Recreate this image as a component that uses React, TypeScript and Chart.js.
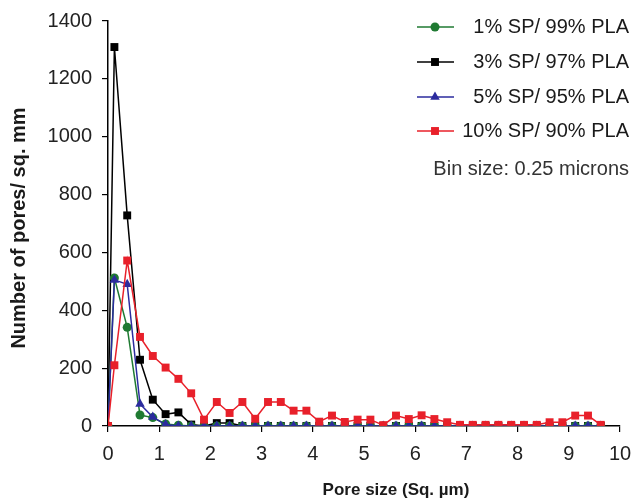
import React, { useEffect, useRef } from "react";
import { Chart, registerables } from "chart.js";

Chart.register(...registerables);

const poreSize = [
  0, 0.125, 0.375, 0.625, 0.875, 1.125, 1.375, 1.625, 1.875, 2.125,
  2.375, 2.625, 2.875, 3.125, 3.375, 3.625, 3.875, 4.125, 4.375, 4.625,
  4.875, 5.125, 5.375, 5.625, 5.875, 6.125, 6.375, 6.625, 6.875, 7.125,
  7.375, 7.625, 7.875, 8.125, 8.375, 8.625, 8.875, 9.125, 9.375, 9.625,
];

const sp1 = [
  0, 512, 341, 38, 29, 7, 3, 0, 0, 0,
  0, 0, 0, 0, 0, 0, 0, 0, 0, 0,
  0, 0, 0, 0, 0, 0, 0, 0, 0, 0,
  0, 0, 0, 0, 0, 0, 0, 0, 0, 0,
];

const sp3 = [
  0, 1310, 728, 229, 91, 41, 47, 5, 0, 10,
  10, 0, 0, 0, 0, 0, 0, 0, 0, 0,
  0, 0, 0, 0, 0, 0, 0, 0, 0, 0,
  0, 0, 0, 0, 0, 0, 0, 0, 0, 0,
];

const sp5 = [
  0, 505, 490, 76, 31, 5, 0, 0, 0, 0,
  0, 0, 0, 0, 0, 0, 0, 0, 0, 0,
  0, 0, 0, 0, 0, 0, 0, 0, 0, 0,
  0, 0, 0, 0, 0, 0, 0, 0, 0, 0,
];

const sp10 = [
  0, 210, 572, 308, 242, 202, 163, 113, 22, 83,
  45, 83, 25, 83, 83, 53, 53, 15, 36, 14,
  22, 22, 3, 36, 24, 37, 24, 13, 4, 4,
  4, 4, 4, 4, 4, 13, 13, 36, 36, 4,
];

const seriesLabels = [
  "1% SP/ 99% PLA",
  "3% SP/ 97% PLA",
  "5% SP/ 95% PLA",
  "10% SP/ 90% PLA",
];
const seriesColors = ["#1f7a32", "#000000", "#2b2b9e", "#e8202a"];
const seriesStyles = ["circle", "rect", "triangle", "rect"];
const seriesRadius = [4.5, 5.6, 5.5, 5.6];
const seriesValues = [sp1, sp3, sp5, sp10];
const seriesOrder = [2, 3, 1, 0];

const xTicks = [0, 1, 2, 3, 4, 5, 6, 7, 8, 9, 10];
const yTicks = [0, 200, 400, 600, 800, 1000, 1200, 1400];
const binNote = "Bin size: 0.25 microns";
const xTitle = "Pore size (Sq. µm)";
const yTitle = "Number of pores/ sq. mm";

const FONT = "'Liberation Sans', Arial, sans-serif";

function drawMarker(ctx: CanvasRenderingContext2D, style: string, x: number, y: number, r: number, color: string) {
  ctx.save();
  ctx.fillStyle = color;
  ctx.beginPath();
  if (style === "circle") {
    ctx.arc(x, y, r, 0, Math.PI * 2);
  } else if (style === "rect") {
    const s = r * Math.SQRT1_2;
    ctx.rect(x - s, y - s, 2 * s, 2 * s);
  } else {
    const h = r;
    ctx.moveTo(x, y - h);
    ctx.lineTo(x + h * Math.sin(Math.PI / 3), y + h * 0.5);
    ctx.lineTo(x - h * Math.sin(Math.PI / 3), y + h * 0.5);
    ctx.closePath();
  }
  ctx.fill();
  ctx.restore();
}

const legendPlugin = {
  id: "customLegend",
  afterDraw(chart: any) {
    const ctx: CanvasRenderingContext2D = chart.ctx;
    const rows = [27, 62, 97, 131];
    ctx.save();
    ctx.font = `20px ${FONT}`;
    ctx.textBaseline = "middle";
    ctx.textAlign = "right";
    seriesLabels.forEach((label, i) => {
      const y = rows[i];
      ctx.strokeStyle = seriesColors[i];
      ctx.lineWidth = 1.5;
      ctx.beginPath();
      ctx.moveTo(417, y);
      ctx.lineTo(454, y);
      ctx.stroke();
      drawMarker(ctx, seriesStyles[i], 435, y, seriesRadius[i], seriesColors[i]);
      ctx.fillStyle = "#1a1a1a";
      ctx.fillText(label, 629, y);
    });
    ctx.fillStyle = "#333333";
    ctx.fillText(binNote, 629, 169);

    // axis titles
    ctx.fillStyle = "#1a1a1a";
    ctx.textAlign = "center";
    ctx.font = `bold 17px ${FONT}`;
    ctx.fillText(xTitle, 396, 490);
    ctx.translate(19, 228);
    ctx.rotate(-Math.PI / 2);
    ctx.font = `bold 20px ${FONT}`;
    ctx.fillText(yTitle, 0, 0);
    ctx.restore();
  },
};

export default function App() {
  const ref = useRef<HTMLCanvasElement>(null);
  useEffect(() => {
    if (!ref.current) return;
    const chart = new Chart(ref.current, {
      type: "line",
      data: {
        datasets: seriesLabels.map((label, i) => ({
          label,
          data: poreSize.map((x, j) => ({ x, y: seriesValues[i][j] })),
          borderColor: seriesColors[i],
          backgroundColor: seriesColors[i],
          pointBackgroundColor: seriesColors[i],
          pointBorderColor: seriesColors[i],
          pointStyle: seriesStyles[i] as any,
          pointRadius: seriesRadius[i],
          pointBorderWidth: 0,
          borderWidth: 1.5,
          tension: 0,
          order: seriesOrder[i],
        })),
      },
      options: {
        animation: false,
        responsive: false,
        layout: { padding: { top: 21, right: 13, left: 0, bottom: 0 } },
        plugins: {
          legend: { display: false },
          tooltip: { enabled: false },
        },
        scales: {
          x: {
            type: "linear",
            min: 0,
            max: 10,
            afterFit: (s: any) => { s.height = 76; s.paddingRight = 0; s.paddingLeft = 0; },
            afterBuildTicks: (s: any) => { s.ticks = xTicks.map((v) => ({ value: v })); },
            ticks: {
              font: { family: FONT, size: 20 },
              color: "#222222",
              padding: 10,
              maxRotation: 0,
              callback: (v: any) => String(v),
            },
            grid: { display: true, drawOnChartArea: false, drawTicks: true, tickLength: 6, color: "#000000", lineWidth: 1.2 },
            border: { display: true, color: "#000000", width: 1.5 },
          },
          y: {
            type: "linear",
            min: 0,
            max: 1400,
            afterFit: (s: any) => { s.width = 108; s.paddingTop = 0; s.paddingBottom = 0; },
            afterBuildTicks: (s: any) => { s.ticks = yTicks.map((v) => ({ value: v })); },
            ticks: {
              font: { family: FONT, size: 20 },
              color: "#222222",
              padding: 10,
              callback: (v: any) => String(v),
            },
            grid: { display: true, drawOnChartArea: false, drawTicks: true, tickLength: 6, color: "#000000", lineWidth: 1.2 },
            border: { display: true, color: "#000000", width: 1.5 },
          },
        },
      },
      plugins: [legendPlugin],
    });
    return () => chart.destroy();
  }, []);
  return (
    <div style={{ position: "absolute", left: 0, top: 0, width: 633, height: 502, background: "#fff" }}>
      <canvas ref={ref} width={633} height={502} style={{ width: 633, height: 502, display: "block" }} />
    </div>
  );
}
